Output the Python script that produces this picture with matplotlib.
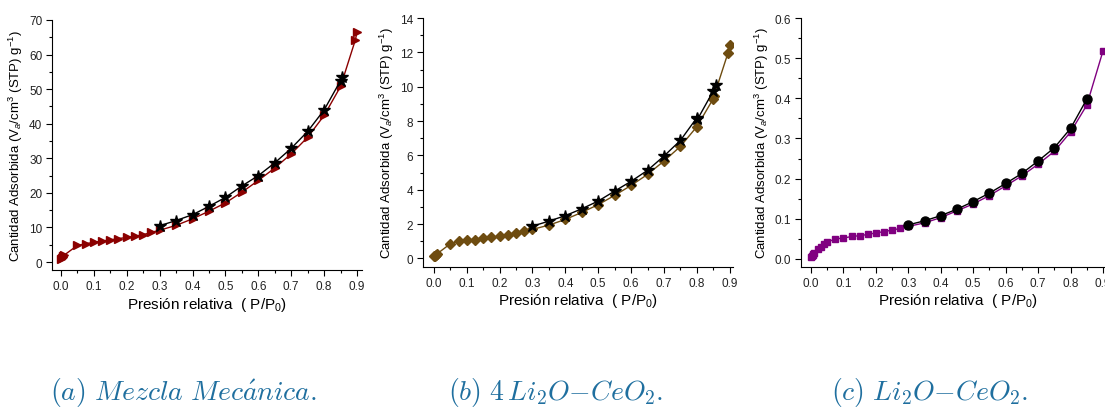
import numpy as np
import matplotlib
matplotlib.use('Agg')
import matplotlib.pyplot as plt
from matplotlib.ticker import MultipleLocator

plt.rcParams['font.family'] = ['Liberation Sans', 'DejaVu Sans']
plt.rcParams['mathtext.fontset'] = 'custom'
plt.rcParams['mathtext.rm'] = 'Liberation Sans'
plt.rcParams['mathtext.it'] = 'Liberation Sans:italic'

# (a) mezcla mecanica: adsorcion / desorcion
p_ads_a = [0.001, 0.003, 0.005, 0.007, 0.01, 0.05, 0.075, 0.1, 0.125, 0.15, 0.175, 0.2,
           0.225, 0.25, 0.275, 0.3, 0.35, 0.4, 0.45, 0.5, 0.55, 0.6, 0.65, 0.7, 0.75,
           0.8, 0.85, 0.895, 0.9]
v_ads_a = [0.8, 1.1, 1.4, 1.7, 2.0, 4.8, 5.3, 5.7, 6.1, 6.4, 6.8, 7.1, 7.5, 7.9, 8.6,
           9.2, 10.6, 12.5, 14.7, 17.1, 20.2, 23.6, 27.2, 31.3, 36.1, 42.4, 50.8, 64.3, 66.5]
p_des_a = [0.855, 0.85, 0.8, 0.75, 0.7, 0.65, 0.6, 0.55, 0.5, 0.45, 0.4, 0.35, 0.3]
v_des_a = [53.4, 52.5, 44.0, 37.8, 32.9, 28.7, 25.0, 22.0, 18.7, 16.1, 13.7, 12.0, 10.5]

# (b) 4 Li2O-CeO2
p_ads_b = [0.001, 0.003, 0.007, 0.01, 0.05, 0.075, 0.1, 0.125, 0.15, 0.175, 0.2, 0.225,
           0.25, 0.275, 0.3, 0.35, 0.4, 0.45, 0.5, 0.55, 0.6, 0.65, 0.7, 0.75, 0.8,
           0.85, 0.852, 0.895, 0.9]
v_ads_b = [0.12, 0.15, 0.2, 0.27, 0.85, 1.0, 1.07, 1.1, 1.18, 1.22, 1.3, 1.36, 1.46,
           1.57, 1.69, 1.94, 2.27, 2.68, 3.13, 3.67, 4.25, 4.89, 5.67, 6.52, 7.67,
           9.3, 9.44, 11.98, 12.45]
p_des_b = [0.857, 0.85, 0.802, 0.8, 0.75, 0.7, 0.65, 0.6, 0.55, 0.5, 0.45, 0.4, 0.35, 0.3]
v_des_b = [10.08, 9.75, 8.1, 8.19, 6.87, 5.96, 5.13, 4.49, 3.92, 3.34, 2.89, 2.49, 2.17, 1.88]

# (c) Li2O-CeO2
p_ads_c = [0.001, 0.003, 0.005, 0.007, 0.01, 0.02, 0.03, 0.04, 0.05, 0.075, 0.1, 0.125,
           0.15, 0.175, 0.2, 0.225, 0.25, 0.275, 0.3, 0.35, 0.4, 0.45, 0.5, 0.55, 0.6,
           0.65, 0.7, 0.75, 0.8, 0.85, 0.9]
v_ads_c = [0.005, 0.0075, 0.011, 0.013, 0.016, 0.024, 0.031, 0.037, 0.042, 0.05, 0.052,
           0.056, 0.058, 0.061, 0.065, 0.068, 0.072, 0.076, 0.081, 0.09, 0.103, 0.12,
           0.137, 0.158, 0.182, 0.207, 0.236, 0.268, 0.316, 0.383, 0.518]
p_des_c = [0.85, 0.8, 0.75, 0.7, 0.65, 0.6, 0.55, 0.5, 0.45, 0.4, 0.35, 0.3]
v_des_c = [0.398, 0.325, 0.277, 0.244, 0.213, 0.188, 0.164, 0.143, 0.124, 0.108, 0.095, 0.085]

captions = [r'$(a)\ Mezcla\ Mec\acute{a}nica.$',
            r'$(b)\ 4\,Li_2O{-}CeO_2.$',
            r'$(c)\ Li_2O{-}CeO_2.$']
caption_x = [183, 556, 930]

W, H = 1105, 410
fig = plt.figure(figsize=(W / 100, H / 100), dpi=100)


def px_axes(x0, x1, y0, y1):
    return fig.add_axes([x0 / W, 1 - y1 / H, (x1 - x0) / W, (y1 - y0) / H])


panels = [
    dict(box=(52, 362, 21, 271), xlim=(-0.027, 0.915), ylim=(-2.3, 70), ymaj=10, ymin=5,
         ads=(p_ads_a, v_ads_a), des=(p_des_a, v_des_a), color='#8b0000',
         mk_ads='>', ms_ads=6, mk_des='*', ms_des=9, fmt='{:.0f}'),
    dict(box=(423, 733, 19, 268), xlim=(-0.033, 0.91), ylim=(-0.5, 14), ymaj=2, ymin=1,
         ads=(p_ads_b, v_ads_b), des=(p_des_b, v_des_b), color='#6e4c10',
         mk_ads='D', ms_ads=5, mk_des='*', ms_des=9, fmt='{:.0f}'),
    dict(box=(801, 1115, 19, 268), xlim=(-0.031, 0.937), ylim=(-0.02, 0.6), ymaj=0.1, ymin=0.05,
         ads=(p_ads_c, v_ads_c), des=(p_des_c, v_des_c), color='#800080',
         mk_ads='s', ms_ads=5, mk_des='o', ms_des=6.5, fmt='{:.1f}'),
]

for pan in panels:
    ax = px_axes(*pan['box'])
    ax.plot(*pan['des'], color='black', lw=1, marker=pan['mk_des'], ms=pan['ms_des'], zorder=3)
    ax.plot(*pan['ads'], color=pan['color'], lw=1, marker=pan['mk_ads'], ms=pan['ms_ads'], zorder=2)
    ax.set_xlim(*pan['xlim'])
    ax.set_ylim(*pan['ylim'])
    ax.spines['top'].set_visible(False)
    ax.spines['right'].set_visible(False)
    ax.xaxis.set_minor_locator(MultipleLocator(0.05))
    ax.yaxis.set_minor_locator(MultipleLocator(pan['ymin']))
    xt = np.arange(0, 0.91, 0.1)
    ax.set_xticks(xt)
    ax.set_xticklabels(['{:.1f}'.format(v) for v in xt])
    yt = np.arange(0, pan['ylim'][1] + 1e-9, pan['ymaj'])
    ax.set_yticks(yt)
    ax.set_yticklabels([pan['fmt'].format(v) for v in yt])
    ax.tick_params(which='major', direction='out', length=4, width=0.8, labelsize=8.5,
                   pad=3, labelcolor='#222222')
    ax.tick_params(which='minor', direction='out', length=2.5, width=0.8)
    ax.set_xlabel('Presión relativa  ( P/P$_0$)', fontsize=11, labelpad=2)
    ax.set_ylabel('Cantidad Adsorbida (V$_a$/cm$^3$ (STP) g$^{-1}$)', fontsize=9.5, labelpad=3)

for cx, txt in zip(caption_x, captions):
    fig.text(cx / W, 1 - 393 / H, txt, fontsize=20, color='#1f6f9f', ha='center', va='center',
             math_fontfamily='cm')

fig.savefig('out.png', dpi=100)
